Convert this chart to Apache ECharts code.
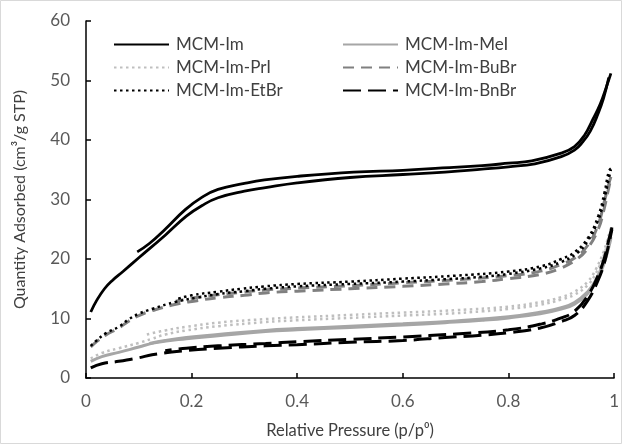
<!DOCTYPE html>
<html>
<head>
<meta charset="utf-8">
<script src="https://cdn.jsdelivr.net/npm/echarts@6/dist/echarts.min.js"></script>
<style>
  html, body { margin: 0; padding: 0; background: #fff; }
  #chart { width: 622px; height: 444px; }
</style>
</head>
<body>
<div id="chart"></div>
<script>
// sample names (legend order by column)
const names = ['MCM-Im', 'MCM-Im-MeI', 'MCM-Im-PrI', 'MCM-Im-BuBr', 'MCM-Im-EtBr', 'MCM-Im-BnBr'];
const legendLeft = ['MCM-Im', 'MCM-Im-PrI', 'MCM-Im-EtBr'];
const legendRight = ['MCM-Im-MeI', 'MCM-Im-BuBr', 'MCM-Im-BnBr'];

const xTicks = [0, 0.2, 0.4, 0.6, 0.8, 1];
const yTicks = [0, 10, 20, 30, 40, 50, 60];

// adsorption / desorption branches, [p/p0, quantity]
const imAds = [[0.009,11.1],[0.02,13.0],[0.035,15.0],[0.05,16.4],[0.07,17.9],[0.1,20.2],[0.15,24],[0.19,27.2],
  [0.22,29.0],[0.25,30.3],[0.3,31.4],[0.34,32.0],[0.4,32.8],[0.5,33.7],[0.6,34.2],[0.68,34.6],[0.75,35.1],
  [0.8,35.5],[0.85,36],[0.9,37.2],[0.925,38.3],[0.94,39.6],[0.955,41.5],[0.97,44.5],[0.98,47],[0.99,50.5]];
const imDes = [[0.994,51.2],[0.985,48.8],[0.974,46.1],[0.96,43.5],[0.944,40.8],[0.925,38.9],[0.9,37.8],
  [0.844,36.5],[0.8,36.1],[0.75,35.7],[0.675,35.3],[0.6,34.9],[0.507,34.6],[0.4,33.9],[0.338,33.3],
  [0.3,32.7],[0.25,31.7],[0.22,30.4],[0.188,28.3],[0.15,25],[0.12,22.6],[0.097,21.2]];

const meiAds = [[0.009,2.8],[0.03,3.6],[0.062,4.3],[0.1,5.2],[0.13,5.9],[0.19,6.6],[0.25,7.1],[0.34,7.8],
  [0.4,8.1],[0.5,8.5],[0.6,8.9],[0.68,9.3],[0.75,9.7],[0.8,10.1],[0.86,10.8],[0.9,11.6],[0.925,12.4],
  [0.95,14.2],[0.965,16],[0.98,19],[0.99,22],[0.994,23.5]];
const meiDes = [[0.994,23.7],[0.99,22.4],[0.98,19.4],[0.965,16.4],[0.95,14.5],[0.925,12.7],[0.9,11.8],
  [0.863,11.1],[0.8,10.3],[0.7,9.6],[0.6,9.1],[0.5,8.7],[0.4,8.3],[0.34,8.0],[0.25,7.3],[0.19,6.8],
  [0.15,6.3],[0.12,5.8]];

const priAds = [[0.009,3.3],[0.03,4.2],[0.062,5],[0.1,5.9],[0.125,6.6],[0.15,7.3],[0.19,8.0],[0.25,8.7],
  [0.34,9.4],[0.4,9.7],[0.5,10.1],[0.6,10.5],[0.68,10.8],[0.75,11.2],[0.8,11.6],[0.86,12.3],[0.9,13.2],
  [0.925,14],[0.95,15.6],[0.965,17.5],[0.98,20.5],[0.99,23.5],[0.994,25]];
const priDes = [[0.994,25.2],[0.99,24],[0.98,21.2],[0.965,18.2],[0.95,16.2],[0.925,14.5],[0.9,13.6],
  [0.863,12.8],[0.8,12.0],[0.7,11.4],[0.6,11.0],[0.5,10.6],[0.4,10.2],[0.34,9.9],[0.25,9.3],[0.19,8.6],
  [0.15,8.0],[0.11,7.2]];

const bubrAds = [[0.009,5.2],[0.02,6.1],[0.037,7.2],[0.062,8.4],[0.08,9.5],[0.1,10.5],[0.125,11.3],[0.17,12.4],
  [0.21,13.0],[0.25,13.5],[0.3,13.9],[0.34,14.3],[0.4,14.6],[0.5,15.0],[0.6,15.4],[0.68,15.8],[0.75,16.2],
  [0.8,16.7],[0.86,17.4],[0.9,18.5],[0.93,20],[0.95,21.8],[0.97,25],[0.98,28],[0.99,32],[0.994,33.5]];
const bubrDes = [[0.994,33.8],[0.99,32.6],[0.982,29.8],[0.97,25.8],[0.951,22.4],[0.926,20.2],[0.9,19.1],
  [0.863,18],[0.8,17.2],[0.7,16.5],[0.6,16],[0.5,15.5],[0.4,15.1],[0.338,14.8],[0.294,14.4],[0.25,14],
  [0.2,13.4],[0.17,12.9]];

const etbrAds = [[0.009,5.4],[0.02,6.3],[0.037,7.5],[0.062,8.6],[0.08,9.8],[0.1,10.8],[0.125,11.6],[0.17,12.8],
  [0.21,13.5],[0.25,14.1],[0.3,14.6],[0.34,15.0],[0.4,15.4],[0.5,15.8],[0.6,16.2],[0.68,16.6],[0.75,17.0],
  [0.8,17.5],[0.86,18.4],[0.9,19.5],[0.93,21],[0.95,23],[0.97,26.5],[0.98,29.5],[0.99,33.5],[0.994,35]];
const etbrDes = [[0.994,35.2],[0.99,34.7],[0.982,31.2],[0.97,27.2],[0.951,23.6],[0.926,21.2],[0.9,20],
  [0.863,18.8],[0.8,17.9],[0.7,17.2],[0.6,16.7],[0.5,16.2],[0.4,15.8],[0.338,15.4],[0.294,15.0],[0.25,14.5],
  [0.2,13.9],[0.17,13.2]];

const bnbrAds = [[0.009,1.7],[0.03,2.4],[0.062,2.8],[0.1,3.4],[0.125,3.9],[0.19,4.6],[0.25,5.0],[0.34,5.4],
  [0.4,5.6],[0.5,6.0],[0.6,6.3],[0.68,6.8],[0.75,7.2],[0.8,7.6],[0.86,8.4],[0.9,9.5],[0.925,10.5],
  [0.95,13],[0.97,16.5],[0.982,19.5],[0.99,22.5],[0.996,25]];
const bnbrDes = [[0.996,25.3],[0.99,23.2],[0.982,20.3],[0.97,17.3],[0.95,13.8],[0.925,11.2],[0.9,10.1],
  [0.863,9.1],[0.8,8.1],[0.7,7.4],[0.6,6.9],[0.5,6.5],[0.4,6.1],[0.34,5.8],[0.25,5.4],[0.19,5.0],[0.15,4.6]];

const FONT = 'Lato';

// line look per sample
const looks = {
  'MCM-Im':      { color: '#000000', width: 2.8, type: 'solid' },
  'MCM-Im-MeI':  { color: '#a6a6a6', width: 3, type: 'solid' },
  'MCM-Im-PrI':  { color: '#bfbfbf', width: 2.5, type: [2.5, 3.5] },
  'MCM-Im-BuBr': { color: '#808080', width: 3, type: [11, 7] },
  'MCM-Im-EtBr': { color: '#000000', width: 2.5, type: [2.5, 3.5] },
  'MCM-Im-BnBr': { color: '#000000', width: 3, type: [18, 7] }
};

const branches = {
  'MCM-Im': [imAds, imDes],
  'MCM-Im-MeI': [meiAds, meiDes],
  'MCM-Im-PrI': [priAds, priDes],
  'MCM-Im-BuBr': [bubrAds, bubrDes],
  'MCM-Im-EtBr': [etbrAds, etbrDes],
  'MCM-Im-BnBr': [bnbrAds, bnbrDes]
};

const series = [];
names.forEach(n => {
  branches[n].forEach(d => {
    series.push({
      name: n,
      type: 'line',
      data: d,
      symbol: 'none',
      smooth: 0.45,
      color: looks[n].color,
      lineStyle: { color: looks[n].color, width: looks[n].width, type: looks[n].type, cap: 'butt' }
    });
  });
});

// legend: line only, no marker
const legendBase = {
  orient: 'vertical',
  top: 31,
  itemWidth: 55,
  itemHeight: 14,
  itemGap: 6,
  selectedMode: false,
  itemStyle: { opacity: 0 },
  textStyle: { fontFamily: FONT, fontSize: 17, color: '#404040', padding: [0, 0, 0, 2] }
};

const chart = echarts.init(document.getElementById('chart'), null, { renderer: 'canvas' });
chart.setOption({
  animation: false,
  backgroundColor: '#fff',
  grid: { left: 86, right: 4, top: 21, bottom: 63 },
  legend: [
    Object.assign({}, legendBase, { left: 108, data: legendLeft }),
    Object.assign({}, legendBase, { left: 337, data: legendRight })
  ],
  xAxis: {
    type: 'value',
    min: xTicks[0],
    max: xTicks[xTicks.length - 1],
    interval: 0.2,
    name: 'Relative Pressure (p/p\u2070)',
    nameLocation: 'middle',
    nameGap: 44,
    nameTextStyle: { fontFamily: FONT, fontSize: 16.5, color: '#404040' },
    axisLine: { lineStyle: { color: '#000', width: 1.5 } },
    axisTick: { inside: true, length: 5, lineStyle: { color: '#000', width: 1.5 } },
    axisLabel: { margin: 15, fontFamily: FONT, fontSize: 17, color: '#595959' },
    splitLine: { show: false }
  },
  yAxis: {
    type: 'value',
    min: yTicks[0],
    max: yTicks[yTicks.length - 1],
    interval: 10,
    name: 'Quantity Adsorbed (cm\u00b3/g STP)',
    nameLocation: 'middle',
    nameGap: 58,
    nameTextStyle: { fontFamily: FONT, fontSize: 16, color: '#404040' },
    axisLine: { show: true, lineStyle: { color: '#000', width: 1.5 } },
    axisTick: { show: true, inside: true, length: 5, lineStyle: { color: '#000', width: 1.5 } },
    axisLabel: { margin: 16, fontFamily: FONT, fontSize: 17, color: '#595959' },
    splitLine: { show: false }
  },
  graphic: [{
    type: 'rect',
    shape: { x: 0.5, y: 0.5, width: 621, height: 443 },
    style: { fill: 'none', stroke: '#d9d9d9', lineWidth: 1 },
    silent: true
  }],
  series: series
});
</script>
</body>
</html>
